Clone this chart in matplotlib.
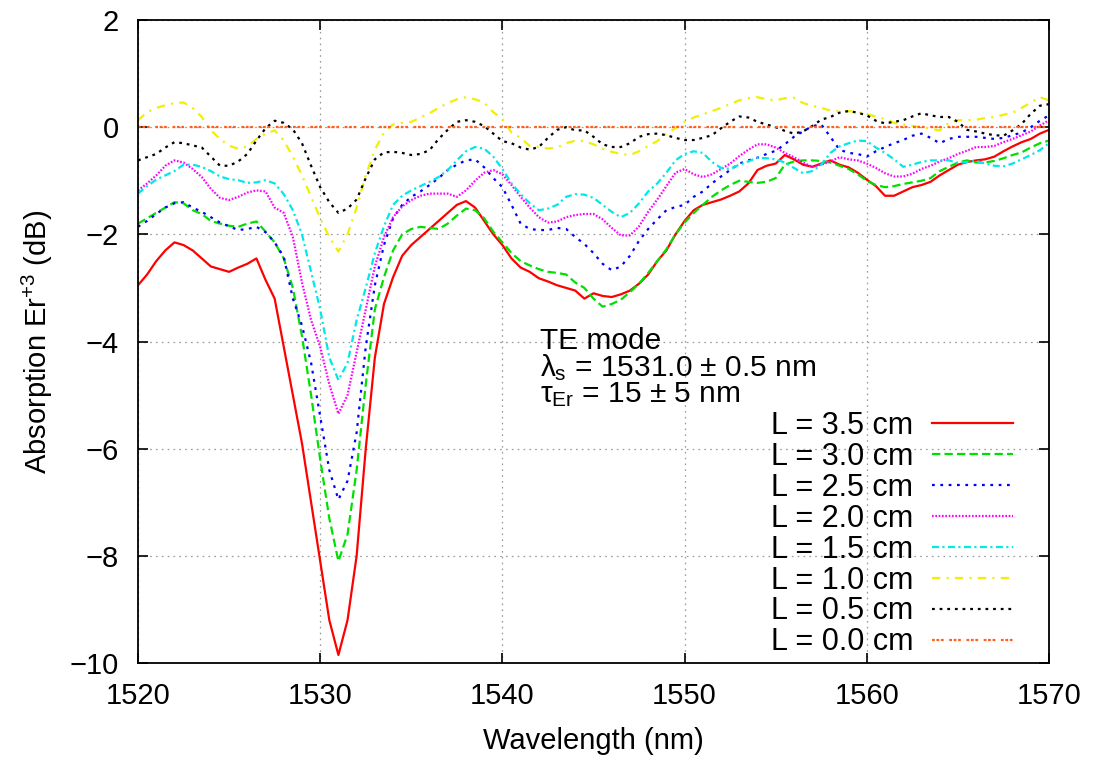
import numpy as np
import matplotlib
matplotlib.use("Agg")
import matplotlib.pyplot as plt

plt.rcParams['font.family'] = ['Liberation Sans', 'DejaVu Sans']
plt.rcParams['mathtext.fontset'] = 'custom'
plt.rcParams['mathtext.rm'] = 'Liberation Sans'
plt.rcParams['mathtext.it'] = 'Liberation Sans'
plt.rcParams['mathtext.bf'] = 'Liberation Sans:bold'
plt.rcParams['lines.scale_dashes'] = False

# ---------------- data ----------------
wavelength = np.arange(1520.0, 1570.01, 0.5)

L35 = [-2.95, -2.75, -2.5, -2.3, -2.15, -2.2, -2.3, -2.45, -2.6, -2.65,
       -2.7, -2.62, -2.55, -2.45, -2.85, -3.2, -4.1, -5.0, -5.9, -7.0,
       -8.1, -9.2, -9.85, -9.2, -8.0, -6.0, -4.3, -3.3, -2.8, -2.4,
       -2.2, -2.05, -1.9, -1.75, -1.6, -1.45, -1.38, -1.5, -1.75, -2.0,
       -2.2, -2.45, -2.62, -2.7, -2.82, -2.88, -2.95, -3.0, -3.05, -3.2,
       -3.1, -3.15, -3.17, -3.12, -3.05, -2.92, -2.75, -2.5, -2.3, -2.0,
       -1.75, -1.55, -1.45, -1.4, -1.35, -1.28, -1.2, -1.05, -0.8, -0.72,
       -0.68, -0.52, -0.6, -0.7, -0.74, -0.68, -0.62, -0.7, -0.75, -0.85,
       -0.98, -1.1, -1.28, -1.28, -1.2, -1.12, -1.08, -1.02, -0.9, -0.8,
       -0.7, -0.65, -0.62, -0.6, -0.55, -0.45, -0.36, -0.28, -0.22, -0.12,
       -0.05]

L30 = [-1.8, -1.7, -1.6, -1.5, -1.4, -1.42, -1.55, -1.62, -1.75, -1.8,
       -1.84, -1.86, -1.8, -1.76, -1.95, -2.15, -2.45, -3.0, -3.9, -5.0,
       -6.2, -7.3, -8.1, -7.6, -6.4, -4.8, -3.4, -2.8, -2.3, -2.0,
       -1.9, -1.86, -1.88, -1.9, -1.8, -1.65, -1.52, -1.55, -1.7, -1.95,
       -2.15, -2.35, -2.5, -2.58, -2.65, -2.7, -2.72, -2.75, -2.9, -3.0,
       -3.2, -3.35, -3.3, -3.22, -3.08, -2.92, -2.72, -2.5, -2.28, -2.0,
       -1.78, -1.6, -1.45, -1.3, -1.18, -1.08, -1.0, -1.02, -1.04, -1.02,
       -0.95, -0.7, -0.64, -0.62, -0.62, -0.63, -0.66, -0.72, -0.78, -0.88,
       -1.0, -1.08, -1.12, -1.1, -1.06, -1.03, -1.0, -0.95, -0.82, -0.74,
       -0.66, -0.62, -0.66, -0.66, -0.63, -0.58, -0.52, -0.47, -0.38, -0.3,
       -0.25]

L25 = [-1.86, -1.75, -1.62, -1.5, -1.42, -1.4, -1.5, -1.58, -1.68, -1.78,
       -1.85, -1.92, -1.9, -1.86, -1.96, -2.15, -2.42, -3.2, -3.7, -4.4,
       -5.4, -6.4, -6.95, -6.6, -5.7, -4.1, -2.95, -2.2, -1.7, -1.45,
       -1.3, -1.2, -1.08, -0.95, -0.8, -0.7, -0.62, -0.6, -0.75, -0.95,
       -1.12, -1.45, -1.8, -1.9, -1.92, -1.92, -1.88, -1.9, -2.05, -2.18,
       -2.35, -2.55, -2.67, -2.6, -2.4, -2.12, -1.9, -1.72, -1.55, -1.49,
       -1.45, -1.3, -1.2, -1.05, -0.92, -0.8, -0.68, -0.62, -0.57, -0.5,
       -0.44, -0.32, -0.18, -0.08, 0.02, 0.05, -0.18, -0.42, -0.48, -0.5,
       -0.55, -0.45, -0.37, -0.3, -0.24, -0.16, -0.12, -0.2, -0.3, -0.22,
       -0.18, -0.18, -0.18, -0.2, -0.22, -0.2, -0.15, -0.1, 0.0, 0.12,
       0.22]

L20 = [-1.18, -1.05, -0.9, -0.72, -0.62, -0.66, -0.78, -0.93, -1.15, -1.32,
       -1.36, -1.3, -1.22, -1.18, -1.2, -1.5, -1.6, -2.05, -2.9, -3.6,
       -4.1, -4.8, -5.35, -5.0, -4.2, -3.4, -2.6, -2.05, -1.68, -1.48,
       -1.36, -1.28, -1.24, -1.24, -1.24, -1.3, -1.18, -1.0, -0.85, -0.8,
       -0.88, -1.08, -1.3, -1.5, -1.68, -1.78, -1.76, -1.68, -1.64, -1.62,
       -1.62, -1.72, -1.88, -2.02, -2.02, -1.85, -1.58, -1.35, -1.1, -0.85,
       -0.78, -0.88, -0.93, -0.88, -0.78, -0.68, -0.54, -0.42, -0.32, -0.32,
       -0.38, -0.48, -0.56, -0.66, -0.74, -0.7, -0.64, -0.56, -0.6, -0.62,
       -0.68, -0.76, -0.86, -0.92, -0.92, -0.87, -0.78, -0.72, -0.64, -0.58,
       -0.5, -0.44, -0.37, -0.37, -0.35, -0.28, -0.22, -0.15, -0.08, 0.03,
       0.13]

L15 = [-1.24, -1.1, -0.98, -0.9, -0.82, -0.7, -0.7, -0.74, -0.82, -0.92,
       -0.97, -0.99, -1.04, -1.03, -0.99, -1.05, -1.25, -1.55, -2.0, -2.7,
       -3.4, -4.3, -4.72, -4.4, -3.6, -3.0, -2.35, -1.85, -1.45, -1.28,
       -1.18, -1.1, -1.02, -0.93, -0.8, -0.62, -0.45, -0.37, -0.4, -0.55,
       -0.78, -1.05, -1.25, -1.42, -1.55, -1.52, -1.45, -1.3, -1.25, -1.26,
       -1.32, -1.45, -1.58, -1.68, -1.6, -1.42, -1.2, -1.05, -0.85, -0.62,
       -0.5, -0.45, -0.48, -0.65, -0.76, -0.78, -0.7, -0.64, -0.57, -0.58,
       -0.6, -0.66, -0.76, -0.86, -0.82, -0.7, -0.48, -0.36, -0.3, -0.25,
       -0.26, -0.38, -0.48, -0.6, -0.74, -0.7, -0.65, -0.62, -0.62, -0.62,
       -0.67, -0.65, -0.63, -0.68, -0.72, -0.73, -0.68, -0.6, -0.52, -0.43,
       -0.3]

L10 = [0.13, 0.28, 0.36, 0.41, 0.45, 0.46, 0.36, 0.19, -0.06, -0.22,
       -0.35, -0.4, -0.36, -0.22, -0.12, -0.06, -0.25, -0.55, -0.9, -1.3,
       -1.7, -2.05, -2.32, -2.0, -1.5, -0.9, -0.42, -0.1, 0.05, 0.08,
       0.1, 0.18, 0.26, 0.36, 0.45, 0.52, 0.56, 0.52, 0.46, 0.28,
       0.15, -0.1, -0.2, -0.35, -0.37, -0.4, -0.38, -0.3, -0.25, -0.26,
       -0.32, -0.4, -0.46, -0.5, -0.52, -0.45, -0.35, -0.26, -0.12, -0.02,
       0.1, 0.18, 0.24, 0.3, 0.36, 0.43, 0.5, 0.54, 0.56, 0.52,
       0.5, 0.54, 0.55, 0.45, 0.4, 0.36, 0.31, 0.3, 0.3, 0.28,
       0.24, 0.2, 0.15, 0.08, 0.05, 0.02, 0.0, -0.03, -0.06, 0.08,
       0.13, 0.13, 0.14, 0.17, 0.19, 0.23, 0.27, 0.36, 0.46, 0.56,
       0.5]

L05 = [-0.62, -0.56, -0.5, -0.38, -0.28, -0.3, -0.34, -0.38, -0.55, -0.72,
       -0.72, -0.64, -0.5, -0.25, -0.02, 0.12, 0.08, -0.04, -0.3, -0.72,
       -1.12, -1.4, -1.6, -1.52, -1.35, -0.95, -0.6, -0.47, -0.46, -0.48,
       -0.52, -0.5, -0.43, -0.22, -0.05, 0.1, 0.13, 0.1, 0.02, -0.12,
       -0.26, -0.3, -0.38, -0.42, -0.37, -0.2, -0.05, 0.0, -0.06, -0.06,
       -0.18, -0.32, -0.37, -0.37, -0.3, -0.18, -0.13, -0.12, -0.15, -0.2,
       -0.24, -0.24, -0.2, -0.15, -0.02, 0.1, 0.2, 0.18, 0.1, 0.05,
       0.0, -0.07, -0.12, -0.08, 0.02, 0.14, 0.19, 0.27, 0.3, 0.27,
       0.22, 0.12, 0.07, 0.1, 0.13, 0.2, 0.26, 0.22, 0.19, 0.19,
       0.1, -0.05, -0.08, -0.12, -0.15, -0.16, -0.06, 0.06, 0.25, 0.4,
       0.43]

L00_x = [1520.0, 1570.0]
L00 = [0.0, 0.0]

labels = ['L = 3.5 cm', 'L = 3.0 cm', 'L = 2.5 cm', 'L = 2.0 cm',
          'L = 1.5 cm', 'L = 1.0 cm', 'L = 0.5 cm', 'L = 0.0 cm']

annotation = ['TE mode',
              r'$\lambda_{\mathrm{s}}$ = 1531.0 ± 0.5 nm',
              r'$\tau_{\mathrm{Er}}$ = 15 ± 5 nm']

# ---------------- styles ----------------
colors = ['#ff0000', '#00e000', '#0000ff', '#ff00ff',
          '#00e8e8', '#f0f000', '#000000', '#ff6020']
dashes = [None, (6, 3), (2, 4), (1.2, 1.2),
          (5, 2.5, 1.5, 2.5), (6, 4.5, 1.5, 4.5), (2, 3.5), (2, 1.2, 2, 1.2, 2, 4)]

fig = plt.figure(figsize=(10.94, 7.59), dpi=100)
ax = fig.add_axes([138 / 1094, 1 - 663 / 759, (1049 - 138) / 1094, (663 - 20) / 759])

series = [L35, L30, L25, L20, L15, L10, L05]
for y, c, d, lab in zip(series, colors, dashes, labels):
    line, = ax.plot(wavelength, y, color=c, lw=1.6, label=lab)
    if d is not None:
        line.set_dashes(d)
line, = ax.plot(L00_x, L00, color=colors[7], lw=1.6, label=labels[7])
line.set_dashes(dashes[7])

ax.set_xlim(1520, 1570)
ax.set_ylim(-10, 2)
ax.set_xticks([1520, 1530, 1540, 1550, 1560, 1570])
ax.set_yticks([-10, -8, -6, -4, -2, 0, 2])
ax.grid(True, color='#9a9a9a', linestyle=(0, (1.2, 3)), linewidth=0.9)
ax.tick_params(direction='in', top=True, right=True, length=7, width=1.2,
               labelsize=21, color='black')
ax.tick_params(axis='x', pad=14)
ax.tick_params(axis='y', pad=14)
for s in ax.spines.values():
    s.set_linewidth(1.3)

ax.set_xlabel('Wavelength (nm)', fontsize=21, labelpad=12)
ax.set_ylabel(r'Absorption Er$^{+3}$ (dB)', fontsize=21, labelpad=10)

ax.text(1542.05, -5.13, '\n'.join(annotation), fontsize=21.5,
        va='baseline', ha='left', linespacing=0.87)

leg = ax.legend(loc='upper right', bbox_to_anchor=(0.9605, 0.392),
                markerfirst=False, frameon=False, fontsize=22,
                handlelength=2.65, handletextpad=0.62, labelspacing=0.03,
                borderpad=0, borderaxespad=0)

fig.savefig('out.png', dpi=100)
